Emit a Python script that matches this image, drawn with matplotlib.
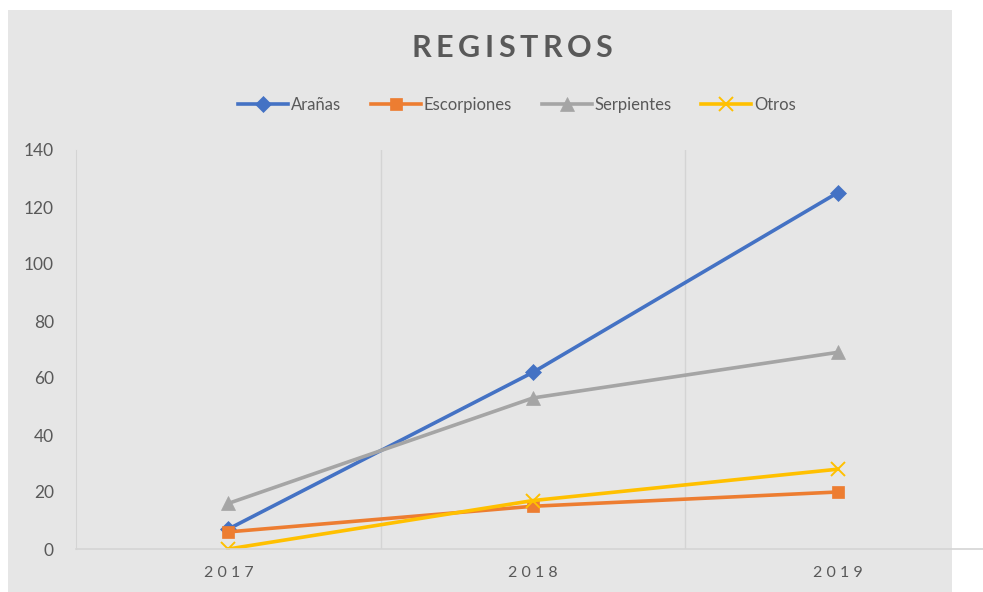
import matplotlib.pyplot as plt
from matplotlib.patches import Rectangle

years = ["2017", "2018", "2019"]
aranas = [7, 62, 125]
escorpiones = [6, 15, 20]
serpientes = [16, 53, 69]
otros = [0, 17, 28]

series = [("Arañas", aranas, '#4472C4', 'D', 8),
          ("Escorpiones", escorpiones, '#ED7D31', 's', 9),
          ("Serpientes", serpientes, '#A5A5A5', '^', 10),
          ("Otros", otros, '#FFC000', 'x', 10)]

title = 'REGISTROS'
txt = '#595959'
plt.rcParams['font.family'] = ['Lato', 'DejaVu Sans']

fig = plt.figure(figsize=(9.83, 5.92), dpi=100)
# gray chart area like the office chart
fig.patches.append(Rectangle((8/983, 0), 944/983, 582/592, transform=fig.transFigure,
                             facecolor='#e6e6e6', edgecolor='none', zorder=-10))

ax = fig.add_axes([76/983, 43/592, 914/983, 399/592])
ax.set_facecolor('none')

x = list(range(len(years)))
for name, vals, col, mk, ms in series:
    ax.plot(x, vals, color=col, linewidth=2.6, marker=mk, markersize=ms,
            markeredgewidth=1.4 if mk == 'x' else 0.5, markeredgecolor=col,
            label=name)

ax.set_xlim(-0.5, 2.5)
ax.set_ylim(0, 140)
ax.set_yticks(range(0, 141, 20))
ax.set_xticks(x)
ax.set_xticklabels([' '.join(y) for y in years])
for b in [0.5, 1.5]:
    ax.axvline(b, color='#d4d4d4', linewidth=1, zorder=0)

for s in ['top', 'right']:
    ax.spines[s].set_visible(False)
ax.spines['left'].set_color('#d4d4d4')
ax.spines['bottom'].set_color('#d4d4d4')
ax.spines['bottom'].set_linewidth(1.2)
ax.tick_params(axis='both', length=0, colors=txt)
ax.tick_params(axis='y', labelsize=12.5, pad=16)
ax.tick_params(axis='x', labelsize=11.5, pad=12)

# title with letter spacing, placed char by char
r = fig.canvas.get_renderer()
spacing = 4.5  # px between letters
tprops = dict(fontsize=22, fontweight='bold', color=txt, va='center', ha='left')
widths = []
for ch in title:
    t = fig.text(0, 0, ch, **tprops)
    widths.append(t.get_window_extent(r).width)
    t.remove()
total = sum(widths) + spacing * (len(title) - 1)
xpos = 512 - total / 2
for ch, w in zip(title, widths):
    fig.text(xpos / 983, 1 - 48/592, ch, **tprops)
    xpos += w + spacing

fig.legend(loc='center', bbox_to_anchor=(517/983, 1 - 105/592), ncol=4,
           frameon=False, fontsize=12, labelcolor=txt, handlelength=3.0,
           handletextpad=0.15, columnspacing=1.8)

fig.savefig('out.png', dpi=100)
